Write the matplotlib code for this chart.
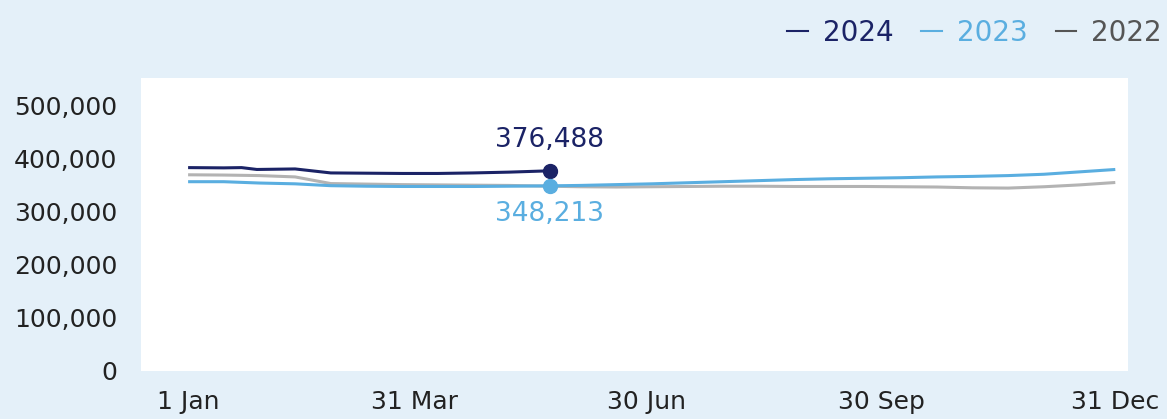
import matplotlib
matplotlib.use("Agg")
from matplotlib import pyplot as plt
from matplotlib.lines import Line2D
from matplotlib.ticker import FuncFormatter

# day of year (0 = 1 Jan) and values
days_2024 = [0, 14, 21, 27, 42, 56, 70, 84, 98, 112, 126, 142]
values_2024 = [382500, 382000, 382500, 379000, 380000, 372500, 372000, 371500, 371500, 372500, 374000, 376488]

days_full = [0, 14, 28, 42, 56, 70, 84, 98, 112, 126, 142, 154, 168, 182, 196, 210, 224,
             238, 252, 266, 280, 294, 308, 322, 336, 350, 364]
values_2023 = [356000, 356000, 353500, 352000, 348500, 347500, 347000, 347000, 347000, 347500,
               348213, 349000, 350500, 352000, 354000, 356000, 358000, 360000, 361500, 362500,
               363500, 365000, 366000, 367500, 370000, 374500, 379000]
values_2022 = [369000, 368500, 367500, 365000, 352500, 351500, 350500, 350000, 349500, 349000,
               347500, 346500, 346000, 346500, 347000, 347500, 347500, 347000, 347000, 347000,
               346500, 346000, 344500, 344000, 346500, 350000, 354500]

tick_days = [0, 89, 180, 272, 364]
tick_labels = ["1 Jan", "31 Mar", "30 Jun", "30 Sep", "31 Dec"]

C_2024 = "#1b2366"
C_2023 = "#5aaee0"
C_2022 = "#b3b3b3"
C_2022_TXT = "#555555"
BG = "#e4f0f9"

plt.rcParams['font.family'] = ['DejaVu Sans']

fig = plt.figure(figsize=(11.67, 4.19), dpi=100)
fig.patch.set_facecolor(BG)
ax = fig.add_axes([0.1208, 0.1146, 0.9666 - 0.1208, 0.8138 - 0.1146])
ax.set_facecolor("white")

ax.plot(days_full, values_2022, color=C_2022, lw=2.2, solid_capstyle="butt")
ax.plot(days_full, values_2023, color=C_2023, lw=2.2, solid_capstyle="butt")
ax.plot(days_2024, values_2024, color=C_2024, lw=2.2, solid_capstyle="butt")

# highlighted latest points
ax.plot(days_2024[-1], values_2024[-1], "o", color=C_2024, ms=10)
ax.plot(days_full[10], values_2023[10], "o", color=C_2023, ms=10)
ax.annotate(f"{values_2024[-1]:,}", (days_2024[-1], values_2024[-1]), xytext=(0, 22),
            textcoords="offset points", ha="center", va="center", fontsize=19, color=C_2024)
ax.annotate(f"{values_2023[10]:,}", (days_full[10], values_2023[10]), xytext=(0, -20),
            textcoords="offset points", ha="center", va="center", fontsize=19, color=C_2023)

ax.set_xlim(-18.5, 369)
ax.set_ylim(0, 551000)
ax.set_yticks([0, 100000, 200000, 300000, 400000, 500000])
ax.yaxis.set_major_formatter(FuncFormatter(lambda v, p: f"{int(v):,}"))
ax.set_xticks(tick_days)
ax.set_xticklabels(tick_labels)
ax.tick_params(axis="both", length=0, labelsize=18, colors="#222222")
ax.tick_params(axis="y", pad=17)
ax.tick_params(axis="x", pad=14)
for s in ax.spines.values():
    s.set_visible(False)

handles = [Line2D([], [], color=C_2024, lw=1.5),
           Line2D([], [], color=C_2023, lw=1.5),
           Line2D([], [], color=C_2022_TXT, lw=1.5)]
fig.legend(handles, ["2024", "2023", "2022"], loc="center right",
           bbox_to_anchor=(1162 / 1167, 0.921), ncol=3, frameon=False, fontsize=20,
           handlelength=0.75, handletextpad=0.54, columnspacing=1.0,
           borderpad=0, borderaxespad=0, labelcolor=[C_2024, C_2023, C_2022_TXT])

fig.savefig("out.png", dpi=100, facecolor=BG)
